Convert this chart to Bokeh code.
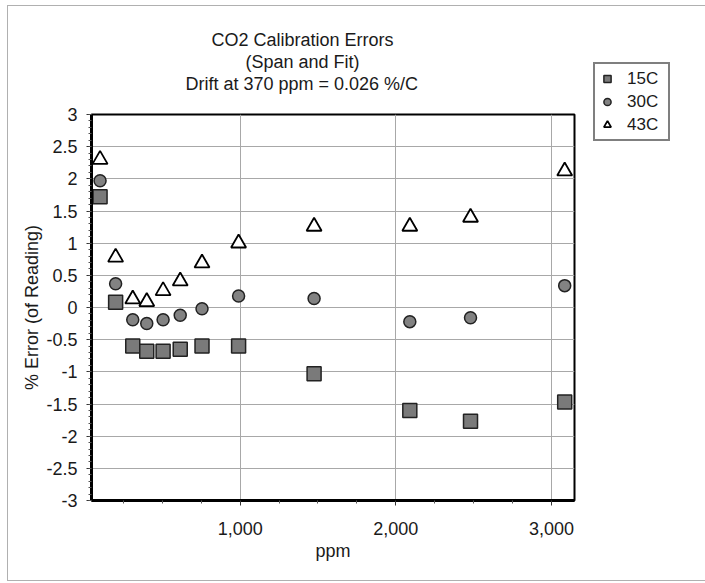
from bokeh.plotting import figure
from bokeh.models import (Range1d, FixedTicker, NumeralTickFormatter, Legend, LegendItem, Title,
                          BoxAnnotation)
from bokeh.embed import file_html
from bokeh.resources import INLINE

ppm = [100, 200, 310, 400, 505, 615, 755, 990, 1475, 2090, 2480, 3085]
err_15C = [1.72, 0.08, -0.60, -0.68, -0.68, -0.65, -0.60, -0.60, -1.03, -1.60, -1.77, -1.47]
err_30C = [1.97, 0.37, -0.19, -0.25, -0.19, -0.12, -0.02, 0.18, 0.14, -0.22, -0.16, 0.34]
err_43C = [2.30, 0.78, 0.13, 0.09, 0.26, 0.41, 0.69, 1.00, 1.26, 1.26, 1.40, 2.12]

title_lines = ["CO2 Calibration Errors", "(Span and Fit)", "Drift at 370 ppm = 0.026 %/C"]
x_ticks = [1000, 2000, 3000]
x_minor = [250, 500, 750, 1250, 1500, 1750, 2250, 2500, 2750]
y_ticks = [-3, -2.5, -2, -1.5, -1, -0.5, 0, 0.5, 1, 1.5, 2, 2.5, 3]
y_minor = [round(-3 + 0.1 * i, 1) for i in range(61)]

FONT = "Liberation Sans"

p = figure(frame_width=483, frame_height=386, output_backend="svg", toolbar_location=None,
           x_range=Range1d(45, 3148), y_range=Range1d(-3, 3),
           min_border_left=83, min_border_right=123, min_border_top=108, min_border_bottom=80,
           title=None)
p.styles = {"margin-left": "8px", "margin-top": "6px", "outline": "1px solid #b0b0b0"}
p.background_fill_color = "white"
p.border_fill_color = "white"
p.outline_line_color = "black"
p.outline_line_width = 2

# spacer between frame and the title block
p.add_layout(Title(text=" ", text_font=FONT, text_font_size="17px", standoff=0), "above")
offsets = [94, 154, 120]
for txt, off in zip(reversed(title_lines), offsets):
    p.add_layout(Title(text=txt, align="left", offset=off, text_font=FONT, text_font_size="18px",
                       text_font_style="normal", text_color="#1a1a1a", standoff=0), "above")

p.xaxis.ticker = FixedTicker(ticks=x_ticks, minor_ticks=x_minor)
p.yaxis.ticker = FixedTicker(ticks=y_ticks, minor_ticks=y_minor)
p.xaxis.formatter = NumeralTickFormatter(format="0,0")
p.yaxis.formatter = NumeralTickFormatter(format="0.[0]")
for ax in (p.xaxis, p.yaxis):
    ax.axis_line_width = 3
    ax.axis_line_color = "black"
    ax.major_tick_line_color = "#333333"
    ax.minor_tick_line_color = "#555555"
    ax.major_tick_out = 5
    ax.major_tick_in = 0
    ax.minor_tick_out = 3
    ax.minor_tick_in = 0
    ax.major_label_text_font = FONT
    ax.major_label_text_font_size = "18px"
    ax.major_label_text_color = "#1a1a1a"
    ax.axis_label_text_font = FONT
    ax.axis_label_text_font_size = "18px"
    ax.axis_label_text_font_style = "normal"
    ax.axis_label_text_color = "#1a1a1a"
p.xaxis.axis_label = "ppm"
p.yaxis.axis_label = "% Error (of Reading)"
p.xaxis.major_label_standoff = 16
p.xaxis.axis_label_standoff = 3
p.yaxis.major_label_standoff = 9
p.yaxis.axis_label_standoff = 1

p.xgrid.ticker = FixedTicker(ticks=x_ticks)
p.ygrid.ticker = FixedTicker(ticks=y_ticks)
p.grid.grid_line_color = "#a8a8a8"
p.grid.grid_line_width = 1

r15 = p.scatter(ppm, err_15C, marker="square", size=14, fill_color="#7a7a7a",
                line_color="#222222", line_width=1.5)
r30 = p.scatter(ppm, err_30C, marker="circle", size=12, fill_color="#828282",
                line_color="#222222", line_width=1.5)
r43 = p.scatter(ppm, err_43C, marker="triangle", size=15, fill_color="white",
                line_color="black", line_width=1.8)

# legend drop shadow
p.add_layout(BoxAnnotation(left=589, right=666, top=61, bottom=139,
                           left_units="canvas", right_units="canvas",
                           top_units="canvas", bottom_units="canvas",
                           fill_color="#3a3a3a", fill_alpha=1, line_color=None))

legend = Legend(items=[LegendItem(label="15C", renderers=[r15]),
                       LegendItem(label="30C", renderers=[r30]),
                       LegendItem(label="43C", renderers=[r43])],
                location=(19, 359))
legend.label_text_font = FONT
legend.label_text_font_size = "17px"
legend.label_text_color = "#1a1a1a"
legend.border_line_color = "black"
legend.border_line_width = 2
legend.padding = 3
legend.spacing = 0
legend.margin = 0
legend.glyph_height = 23
legend.glyph_width = 18
legend.label_height = 23
legend.label_width = 38
legend.label_standoff = 11
legend.background_fill_color = "white"
legend.background_fill_alpha = 1
p.add_layout(legend, "right")

open("out.html", "w").write(file_html(p, INLINE))
